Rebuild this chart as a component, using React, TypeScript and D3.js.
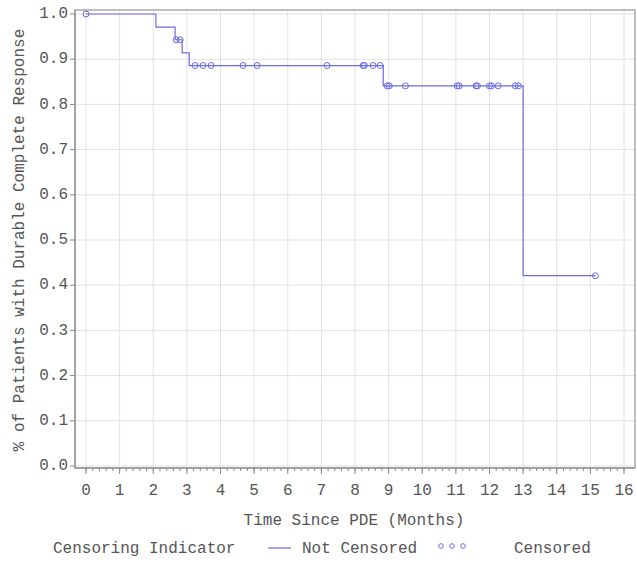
import { useMemo } from "react";
import * as d3 from "d3";

const WIDTH = 637;
const HEIGHT = 563;
const FRAME = { left: 75, top: 10, right: 635, bottom: 468 };
const FONT = "'Liberation Mono', 'Courier New', monospace";
const BLUE = "#6b6be6";
const GREY = "#555";

// steps of the KM curve (time in months, survival)
const stepTimes = [0, 2.08, 2.65, 2.86, 3.07, 8.84, 13.0];
const stepValues = [1.0, 0.971, 0.943, 0.914, 0.886, 0.841, 0.421];
const lastTime = 15.15;

// censored observations
const censoredTimes = [
  0, 2.68, 2.8, 3.24, 3.48, 3.72, 4.67, 5.09, 7.17, 8.24, 8.28, 8.54, 8.75,
  8.96, 9.02, 9.5, 11.04, 11.1, 11.6, 11.64, 12.0, 12.06, 12.26, 12.77, 12.86,
  15.15,
];

const xTicks = d3.range(0, 17, 1);
const xMinorTicks = d3.range(0, 16.01, 0.2);
const yTicks = d3.range(0, 1.01, 0.1);

const survivalAt = (t: number) => {
  let v = stepValues[0];
  stepTimes.forEach((s, i) => {
    if (t >= s) v = stepValues[i];
  });
  return v;
};

export default function App() {
  const xScale = useMemo(() => d3.scaleLinear().domain([0, 16]).range([86, 624]), []);
  const yScale = useMemo(() => d3.scaleLinear().domain([0, 1]).range([466, 14]), []);

  const points: [number, number][] = stepTimes.map((t, i) => [t, stepValues[i]]);
  points.push([lastTime, stepValues[stepValues.length - 1]]);

  const linePath = d3
    .line<[number, number]>()
    .x((d) => xScale(d[0]))
    .y((d) => yScale(d[1]))
    .curve(d3.curveStepAfter)(points);

  return (
    <svg
      width={WIDTH}
      height={HEIGHT}
      style={{ position: "absolute", left: 0, top: 0, background: "white" }}
      fontFamily={FONT}
    >
      {/* grid */}
      {xTicks.map((t) => (
        <line key={"gx" + t} x1={xScale(t)} x2={xScale(t)} y1={FRAME.top} y2={FRAME.bottom} stroke="#e2e2e2" />
      ))}
      {yTicks.map((t) => (
        <line key={"gy" + t} x1={FRAME.left} x2={FRAME.right} y1={yScale(t)} y2={yScale(t)} stroke="#e2e2e2" />
      ))}

      {/* frame */}
      <rect
        x={FRAME.left}
        y={FRAME.top}
        width={FRAME.right - FRAME.left}
        height={FRAME.bottom - FRAME.top}
        fill="none"
        stroke="#aaa"
        strokeWidth={1.5}
      />
      <line x1={FRAME.left} x2={FRAME.left} y1={FRAME.top} y2={FRAME.bottom} stroke="#888" />
      <line x1={FRAME.left} x2={FRAME.right} y1={FRAME.bottom} y2={FRAME.bottom} stroke="#888" />

      {/* y axis */}
      {yTicks.map((t) => (
        <g key={"yt" + t}>
          <line x1={FRAME.left - 5} x2={FRAME.left} y1={yScale(t)} y2={yScale(t)} stroke="#888" />
          <text
            x={FRAME.left - 7}
            y={yScale(t)}
            textAnchor="end"
            dominantBaseline="middle"
            fontSize={16}
            fill={GREY}
          >
            {t.toFixed(1)}
          </text>
        </g>
      ))}

      {/* x axis */}
      {xMinorTicks.map((t, i) => (
        <line key={"xm" + i} x1={xScale(t)} x2={xScale(t)} y1={FRAME.bottom} y2={FRAME.bottom + 3} stroke="#888" />
      ))}
      {xTicks.map((t) => (
        <g key={"xt" + t}>
          <line x1={xScale(t)} x2={xScale(t)} y1={FRAME.bottom} y2={FRAME.bottom + 6} stroke="#888" />
          <text x={xScale(t)} y={491} textAnchor="middle" dominantBaseline="middle" fontSize={16} fill={GREY}>
            {t}
          </text>
        </g>
      ))}

      {/* axis titles */}
      <text x={354} y={521} textAnchor="middle" dominantBaseline="middle" fontSize={16} fill={GREY}>
        Time Since PDE (Months)
      </text>
      <text
        transform={`translate(20,${(yScale(0) + yScale(1)) / 2}) rotate(-90)`}
        textAnchor="middle"
        dominantBaseline="middle"
        fontSize={16}
        fill={GREY}
      >
        % of Patients with Durable Complete Response
      </text>

      {/* curve */}
      <path d={linePath ?? ""} fill="none" stroke={BLUE} strokeWidth={1.2} />
      {censoredTimes.map((t, i) => (
        <circle
          key={"c" + i}
          cx={xScale(t)}
          cy={yScale(survivalAt(t))}
          r={3}
          fill="none"
          stroke={BLUE}
          strokeWidth={1}
        />
      ))}

      {/* legend */}
      <text x={53} y={549} dominantBaseline="middle" fontSize={16} fill={GREY}>
        Censoring Indicator
      </text>
      <line x1={268} x2={291} y1={548} y2={548} stroke={BLUE} strokeWidth={1.2} />
      <text x={302} y={549} dominantBaseline="middle" fontSize={16} fill={GREY}>
        Not Censored
      </text>
      {[441, 452, 463].map((cx) => (
        <circle key={cx} cx={cx} cy={546} r={2.3} fill="none" stroke={BLUE} strokeWidth={1} />
      ))}
      <text x={514} y={549} dominantBaseline="middle" fontSize={16} fill={GREY}>
        Censored
      </text>
    </svg>
  );
}
